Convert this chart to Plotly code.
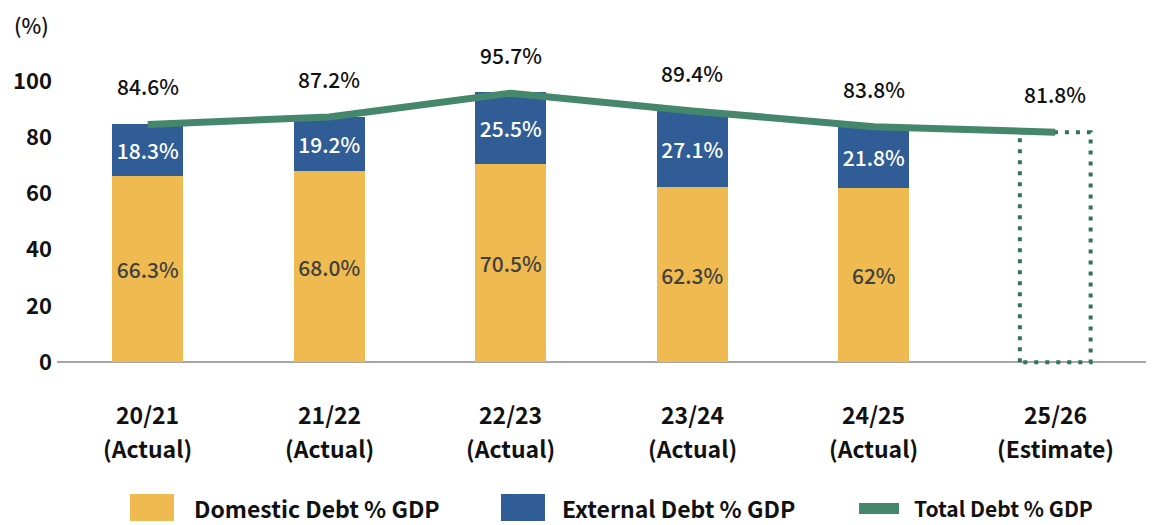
import plotly.graph_objects as go

categories = ["20/21", "21/22", "22/23", "23/24", "24/25", "25/26"]
status = ["(Actual)", "(Actual)", "(Actual)", "(Actual)", "(Actual)", "(Estimate)"]
domestic = [66.3, 68.0, 70.5, 62.3, 62.0, None]
external = [18.3, 19.2, 25.5, 27.1, 21.8, None]
total = [84.6, 87.2, 95.7, 89.4, 83.8, 81.8]
domestic_labels = ["66.3%", "68.0%", "70.5%", "62.3%", "62%", ""]
external_labels = ["18.3%", "19.2%", "25.5%", "27.1%", "21.8%", ""]
total_labels = ["84.6%", "87.2%", "95.7%", "89.4%", "83.8%", "81.8%"]
y_ticks = [0, 20, 40, 60, 80, 100]

FONT = "Noto Sans CJK SC"
C_DOM = "#EFBB51"
C_EXT = "#305D95"
C_TOT = "#44876C"
C_EST = "#317559"
BAR_W = 0.39

x_idx = list(range(len(categories)))
est_i = len(categories) - 1

fig = go.Figure()
fig.add_trace(go.Bar(
    x=x_idx, y=domestic, width=BAR_W, marker=dict(color=C_DOM, line=dict(width=0)),
    text=domestic_labels, textposition="inside", insidetextanchor="middle",
    textangle=0, constraintext="none",
    insidetextfont=dict(family=FONT, size=21, color="#404040", weight=500),
    name="Domestic Debt % GDP", showlegend=False))
fig.add_trace(go.Bar(
    x=x_idx, y=external, width=BAR_W, marker=dict(color=C_EXT, line=dict(width=0)),
    text=external_labels, textposition="inside", insidetextanchor="middle",
    textangle=0, constraintext="none",
    insidetextfont=dict(family=FONT, size=21, color="white", weight=500),
    name="External Debt % GDP", showlegend=False))

# dotted outline for the estimate year (derived from data)
xe0, xe1 = est_i - BAR_W / 2, est_i + BAR_W / 2
fig.add_trace(go.Scatter(
    x=[xe0, xe0, xe1, xe1, xe0], y=[0, total[est_i], total[est_i], 0, 0],
    mode="lines", line=dict(color=C_EST, width=4, dash="4px,7px"),
    showlegend=False, hoverinfo="skip"))

fig.add_trace(go.Scatter(
    x=x_idx, y=total, mode="lines", line=dict(color=C_TOT, width=7),
    name="Total Debt % GDP", showlegend=False))

ann = []
for i, t in enumerate(total_labels):
    ann.append(dict(x=i, y=total[i], xref="x", yref="y", text=t, showarrow=False,
                    yshift=38, font=dict(family=FONT, size=21, color="#111111", weight=500)))
for i, (c, s) in enumerate(zip(categories, status)):
    ann.append(dict(x=i, y=0, xref="x", yref="paper", text="<b>%s</b>" % c, showarrow=False,
                    yanchor="middle", yshift=-49, font=dict(family=FONT, size=23, color="#111111")))
    ann.append(dict(x=i, y=0, xref="x", yref="paper", text="<b>%s</b>" % s, showarrow=False,
                    yanchor="middle", yshift=-83, font=dict(family=FONT, size=23, color="#111111")))
ann.append(dict(x=0, y=1, xref="paper", yref="paper", text="(%)", showarrow=False,
                xanchor="center", yanchor="middle",
                xshift=-26, yshift=28, font=dict(family=FONT, size=21, color="#111111", weight=500)))

# manual legend
legend_items = [
    ("rect", C_DOM, 0.067, 0.1074, "Domestic Debt % GDP", 0.124, 23),
    ("rect", C_EXT, 0.4077, 0.4481, "External Debt % GDP", 0.4619, 23),
    ("line", C_TOT, 0.7365, 0.7732, "Total Debt % GDP", 0.785, 21),
]
shapes = []
for kind, col, x0, x1, label, tx, fs in legend_items:
    if kind == "rect":
        shapes.append(dict(type="rect", xref="paper", yref="paper", x0=x0, x1=x1,
                           y0=-0.5, y1=-0.4135, fillcolor=col, line=dict(width=0)))
    else:
        shapes.append(dict(type="rect", xref="paper", yref="paper", x0=x0, x1=x1,
                           y0=-0.4775, y1=-0.4423, fillcolor=col, line=dict(width=0)))
    ann.append(dict(x=tx, y=-0.458, xref="paper", yref="paper", text="<b>%s</b>" % label,
                    showarrow=False, xanchor="left", yanchor="middle",
                    font=dict(family=FONT, size=fs, color="#111111")))

fig.update_layout(
    barmode="stack",
    width=1159, height=525,
    margin=dict(l=57, r=13, t=53, b=160),
    plot_bgcolor="white", paper_bgcolor="white",
    font=dict(family=FONT, size=21, color="#111111"),
    annotations=ann, shapes=shapes,
    xaxis=dict(range=[-0.5, 5.5], showticklabels=False, showgrid=False, zeroline=False,
               showline=False, ticks=""),
    yaxis=dict(range=[-1, 110], tickvals=y_ticks,
               ticktext=["<b>%d</b>" % v for v in y_ticks],
               tickfont=dict(family=FONT, size=22, color="#111111"),
               showgrid=False, zeroline=True, zerolinecolor="#A6A6A6", zerolinewidth=1.5,
               showline=False, ticks="", ticklabelstandoff=4),
)

fig.write_html("out.html", config={"displayModeBar": False},
               post_script="document.body.style.margin='0';document.body.style.overflow='hidden';")
